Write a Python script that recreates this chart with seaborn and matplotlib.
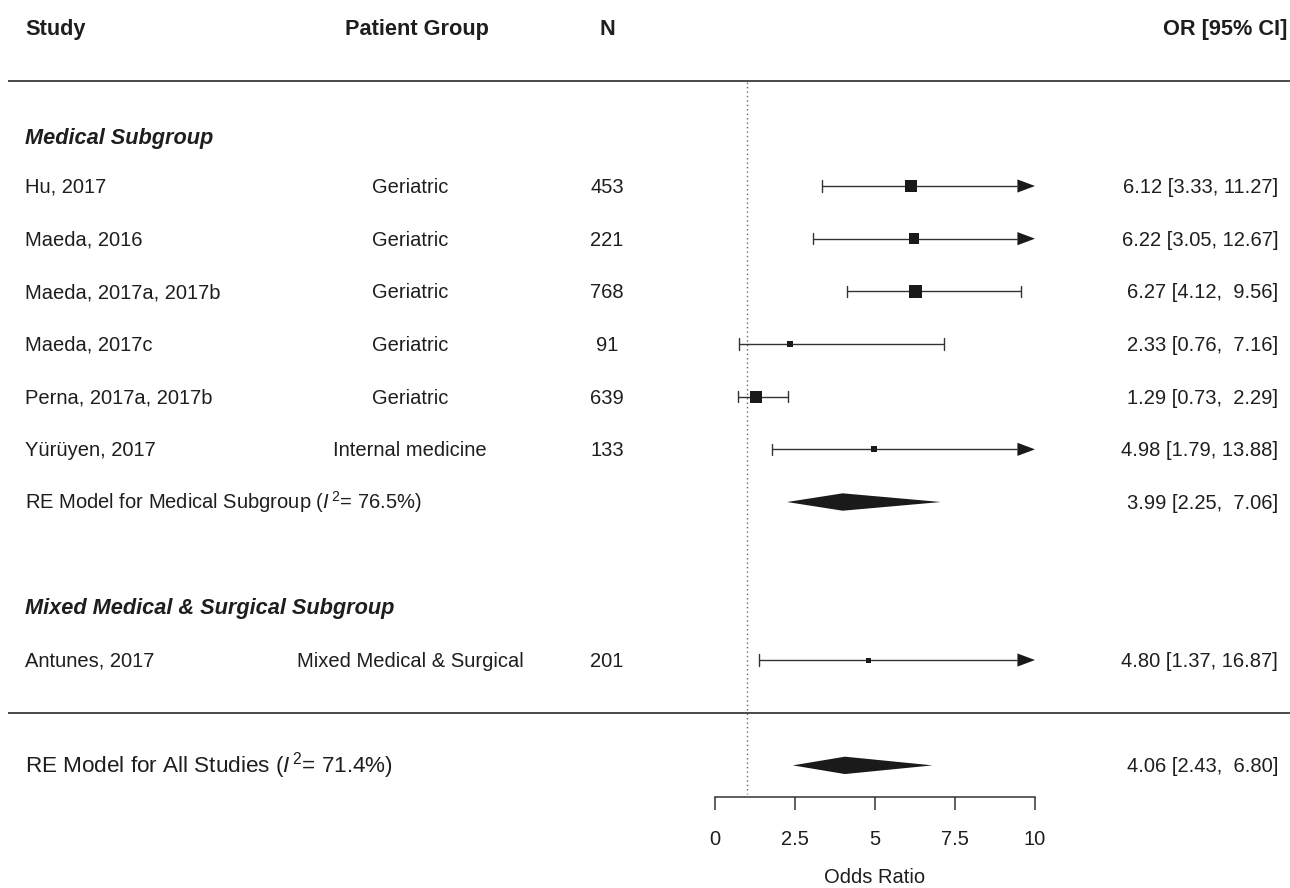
import numpy as np
import matplotlib
matplotlib.use("Agg")
import matplotlib.pyplot as plt
import seaborn as sns

# ---- study-level data -------------------------------------------------------
studies = ["Hu, 2017", "Maeda, 2016", "Maeda, 2017a, 2017b", "Maeda, 2017c",
           "Perna, 2017a, 2017b", "Yürüyen, 2017", "Antunes, 2017"]
groups = ["Geriatric", "Geriatric", "Geriatric", "Geriatric", "Geriatric",
          "Internal medicine", "Mixed Medical & Surgical"]
n_patients = [453, 221, 768, 91, 639, 133, 201]
odds_ratio = [6.12, 6.22, 6.27, 2.33, 1.29, 4.98, 4.80]
ci_lower = [3.33, 3.05, 4.12, 0.76, 0.73, 1.79, 1.37]
ci_upper = [11.27, 12.67, 9.56, 7.16, 2.29, 13.88, 16.87]
box_weight = [11.7, 10.7, 13.3, 6.0, 12.0, 6.0, 5.0]   # relative study weight
study_rows = [0, 1, 2, 3, 4, 5, 9]

# ---- pooled estimates -------------------------------------------------------
pooled_labels = ["RE Model for Medical Subgroup", "RE Model for All Studies"]
pooled_i2 = [76.5, 71.4]
pooled_or = [3.99, 4.06]
pooled_lower = [2.25, 2.43]
pooled_upper = [7.06, 6.80]
pooled_rows = [6, 11]

subgroup_titles = ["Medical Subgroup", "Mixed Medical & Surgical Subgroup"]
subgroup_rows = [-0.93, 8.0]

x_ticks = [0, 2.5, 5, 7.5, 10]
x_tick_labels = ["0", "2.5", "5", "7.5", "10"]
x_min, x_max = 0, 10

# ---- styling ---------------------------------------------------------------
sns.set_theme(style="white")
plt.rcParams["font.family"] = ["Liberation Sans", "DejaVu Sans"]
plt.rcParams["mathtext.fontset"] = "custom"
plt.rcParams["mathtext.rm"] = "Liberation Sans"
plt.rcParams["mathtext.it"] = "Liberation Sans:italic"

TXT = "#1e1e1e"
LINE = "#333333"
BODY = 14.5
HEAD = 15.7

W, H = 1290, 888
X0_PX, UNIT_PX = 715, 32.0        # pixel of OR=0 and pixels per OR unit
ROW0_PX, ROW_PX = 186, 52.67      # pixel of first study row and row height


def px(xp):
    return (xp - X0_PX) / UNIT_PX


fig = plt.figure(figsize=(W / 100, H / 100), dpi=100)
ax = fig.add_axes([0, 0, 1, 1])
ax.set_xlim(px(0), px(W))
ax.set_ylim((H - ROW0_PX) / ROW_PX, -ROW0_PX / ROW_PX)

BASE = 0.13   # baseline offset below a row centre

# header row
hdr_y = -3 + BASE
ax.text(px(25), hdr_y, "Study", ha="left", va="baseline", fontsize=HEAD,
        fontweight="bold", color=TXT)
ax.text(px(416.5), hdr_y, "Patient Group", ha="center", va="baseline",
        fontsize=HEAD, fontweight="bold", color=TXT)
ax.text(px(607), hdr_y, "N", ha="center", va="baseline", fontsize=HEAD,
        fontweight="bold", color=TXT)
ax.text(px(1287), hdr_y, "OR [95% CI]", ha="right", va="baseline",
        fontsize=HEAD, fontweight="bold", color=TXT)

# separators
for r in (-2, 10):
    ax.plot([px(8), px(W)], [r, r], color="#4a4a4a", lw=1.4,
            solid_capstyle="butt")

# reference line at OR = 1
ax.plot([1, 1], [-1.97, 11.55], color="#666666", lw=1.0, ls=(0, (1, 2.2)))

# subgroup titles
for title, r in zip(subgroup_titles, subgroup_rows):
    ax.text(px(25), r + BASE, title, ha="left", va="baseline", fontsize=HEAD,
            fontweight="bold", fontstyle="italic", color=TXT)


def ci_text(est, lo, hi):
    return f"{est:.2f} [{lo:4.2f}, {hi:5.2f}]"


cap_h = 0.105
arrow_len, arrow_h = 0.55, 0.125
for i, r in enumerate(study_rows):
    lo, hi, est = ci_lower[i], ci_upper[i], odds_ratio[i]
    hi_draw = min(hi, x_max)
    truncated = hi > x_max
    line_end = hi_draw - arrow_len if truncated else hi_draw
    ax.plot([lo, line_end], [r, r], color=LINE, lw=1.0, solid_capstyle="butt")
    ax.plot([lo, lo], [r - cap_h, r + cap_h], color=LINE, lw=1.0)
    if truncated:
        ax.fill([hi_draw - arrow_len, hi_draw, hi_draw - arrow_len],
                [r - arrow_h, r, r + arrow_h], color="#1a1a1a", lw=0)
    else:
        ax.plot([hi, hi], [r - cap_h, r + cap_h], color=LINE, lw=1.0)

    ax.text(px(25), r + BASE, studies[i], ha="left", va="baseline",
            fontsize=BODY, color=TXT)
    ax.text(px(410), r + BASE, groups[i], ha="center", va="baseline",
            fontsize=BODY, color=TXT)
    ax.text(px(607), r + BASE, str(n_patients[i]), ha="center",
            va="baseline", fontsize=BODY, color=TXT)
    ax.text(px(1278), r + BASE, ci_text(est, lo, hi), ha="right",
            va="baseline", fontsize=BODY, color=TXT)

# point estimates, box size by study weight
sizes = [(w * 0.72) ** 2 for w in box_weight]
sns.scatterplot(x=odds_ratio, y=study_rows, marker="s", s=sizes,
                color="#1a1a1a", linewidth=0, ax=ax, legend=False, zorder=3)

# pooled diamonds
dia_h = 0.165
for k, r in enumerate(pooled_rows):
    lo, est, hi = pooled_lower[k], pooled_or[k], pooled_upper[k]
    ax.fill([lo, est, hi, est], [r, r - dia_h, r, r + dia_h],
            color="#1a1a1a", lw=0)
    size = BODY if k == 0 else 16.2
    ax.text(px(25), r + BASE,
            f"{pooled_labels[k]} ($\\it{{I}}^{{\\,2}}$= {pooled_i2[k]:.1f}%)",
            ha="left", va="baseline", fontsize=size, color=TXT)
    ax.text(px(1278), r + BASE, ci_text(est, lo, hi), ha="right",
            va="baseline", fontsize=BODY, color=TXT)

# x axis drawn as a floating bottom spine
for side in ("top", "left", "right"):
    ax.spines[side].set_visible(False)
ax.spines["bottom"].set_position(("data", 11.60))
ax.spines["bottom"].set_bounds(x_min, x_max)
ax.spines["bottom"].set_color(LINE)
ax.spines["bottom"].set_linewidth(1.1)
ax.set_xticks(x_ticks)
ax.set_xticklabels(x_tick_labels)
ax.tick_params(axis="x", direction="out", length=9.5, width=1.1,
               color=LINE, pad=14.5, labelsize=BODY, labelcolor=TXT,
               bottom=True)
ax.set_yticks([])
ax.set_ylabel("")
ax.set_xlabel("")
ax.text(5, 13.24, "Odds Ratio", ha="center", va="baseline", fontsize=BODY,
        color=TXT)

fig.savefig("out.png", dpi=100, facecolor="white")
